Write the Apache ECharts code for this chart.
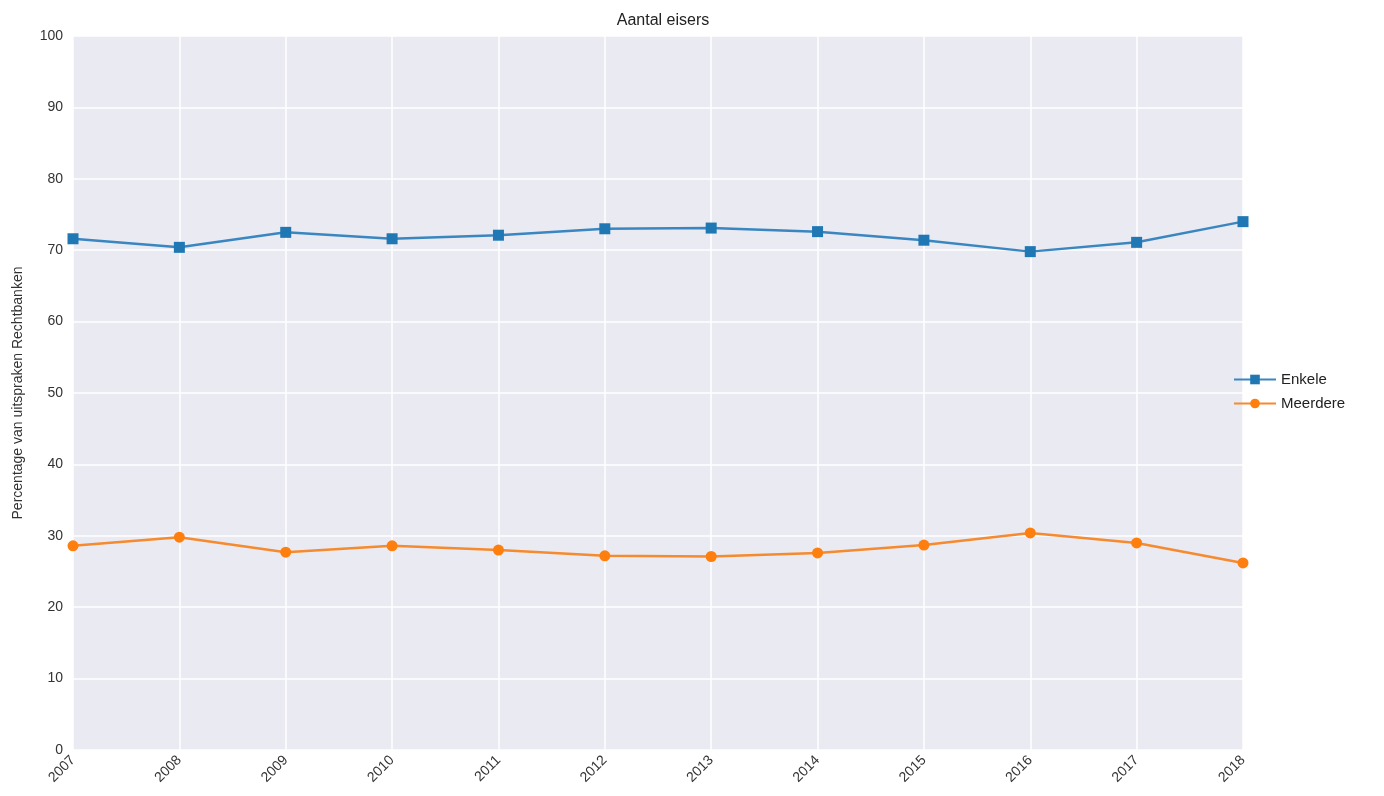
<!DOCTYPE html>
<html>
<head>
<meta charset="utf-8">
<script src="https://cdn.jsdelivr.net/npm/echarts@6/dist/echarts.min.js"></script>
<style>html,body{margin:0;padding:0;background:#fff}#c{width:1384px;height:796px}</style>
</head>
<body>
<div id="c"></div>
<script>
const years = ['2007','2008','2009','2010','2011','2012','2013','2014','2015','2016','2017','2018'];
const enkele = [71.6, 70.4, 72.5, 71.6, 72.1, 73.0, 73.1, 72.6, 71.4, 69.8, 71.1, 74.0];
const meerdere = [28.6, 29.8, 27.7, 28.6, 28.0, 27.2, 27.1, 27.6, 28.7, 30.4, 29.0, 26.2];
const yTicks = [0, 10, 20, 30, 40, 50, 60, 70, 80, 90, 100];

const font = 'Liberation Sans, Arial, sans-serif';
const chart = echarts.init(document.getElementById('c'));
chart.setOption({
  animation: false,
  textStyle: {fontFamily: font},
  title: {text: 'Aantal eisers', left: 658, top: 8, textAlign: 'center',
    textStyle: {fontSize: 16, fontWeight: 'normal', color: '#222', fontFamily: font}},
  grid: {left: 73, right: 141, top: 36, bottom: 46, show: true, backgroundColor: '#EAEAF2', borderWidth: 0},
  legend: {orient: 'vertical', left: 1228, top: 367, itemWidth: 42, itemHeight: 12, itemGap: 9,
    textStyle: {fontSize: 15, color: '#222', fontFamily: font},
    data: ['Enkele', 'Meerdere']},
  xAxis: {type: 'category', data: years, boundaryGap: false,
    axisLine: {show: false}, axisTick: {show: false},
    splitLine: {show: true, lineStyle: {color: '#fff', width: 1.5}},
    axisLabel: {rotate: 45, fontSize: 14, color: '#333', margin: 8, fontFamily: font}},
  yAxis: {type: 'value', min: 0, max: 100, interval: 10,
    name: 'Percentage van uitspraken Rechtbanken', nameLocation: 'middle', nameGap: 48,
    nameTextStyle: {fontSize: 14, color: '#333', fontFamily: font},
    axisLine: {show: false}, axisTick: {show: false},
    splitLine: {show: true, lineStyle: {color: '#fff', width: 1.5}},
    axisLabel: {fontSize: 14, color: '#333', margin: 10, fontFamily: font,
      formatter: v => yTicks.includes(v) ? String(v) : ''}},
  series: [
    {name: 'Enkele', type: 'line', data: enkele, symbol: 'rect', symbolSize: 11,
      itemStyle: {color: '#1f77b4'}, lineStyle: {width: 2.5, color: '#3a86c0'}},
    {name: 'Meerdere', type: 'line', data: meerdere, symbol: 'circle', symbolSize: 11,
      itemStyle: {color: '#ff7f0e'}, lineStyle: {width: 2.5, color: '#f58a2e'}}
  ]
});
</script>
</body>
</html>
